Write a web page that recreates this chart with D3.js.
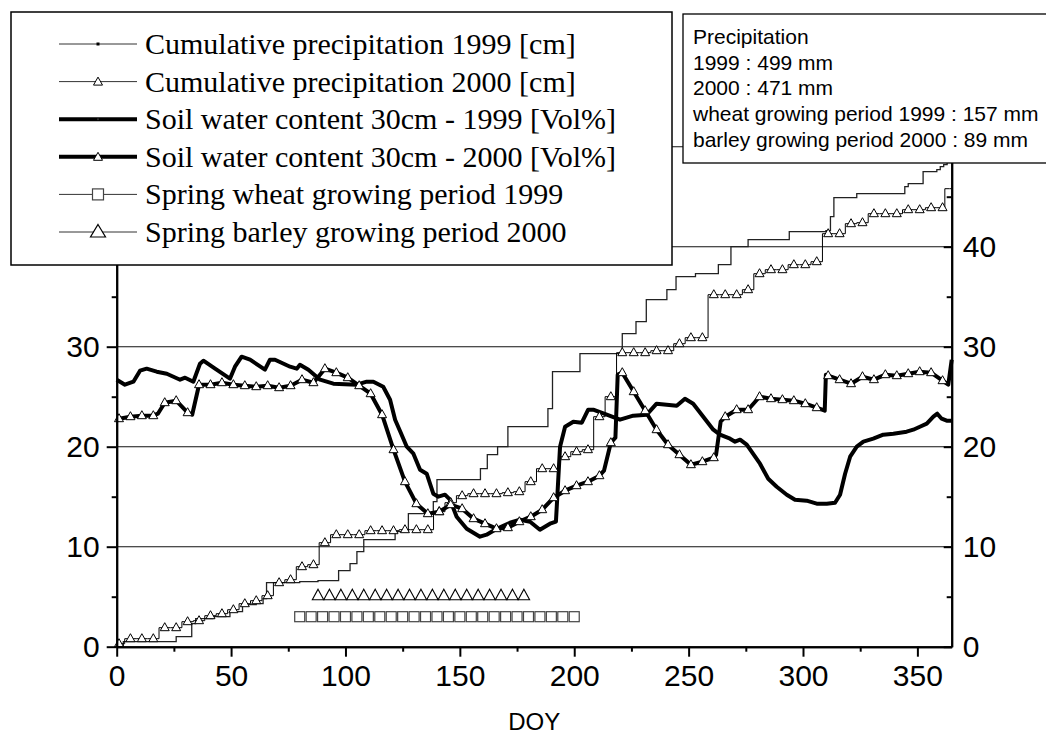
<!DOCTYPE html>
<html>
<head>
<meta charset="utf-8">
<script src="https://cdn.jsdelivr.net/npm/d3@7"></script>
<style>
body { margin: 0; background: #fff; }
</style>
</head>
<body>
<script>
// cumulative precipitation 1999 [cm] - step changes as [DOY, value]
var precip1999 = [[0,0],[2.9,0.5],[26,1.0],[32.8,2.3],[34.5,2.8],[42,3.0],[49.5,3.5],[55,4.2],[61,4.3],[64,4.8],[65.5,6.4],[80,6.5],[88,6.6],[97,7.6],[102,8.3],[105,9.5],[108,10.7],[121.7,11.5],[127.5,13.3],[138.4,14.5],[140,16.7],[159,17.8],[162,19.2],[166.5,20.0],[171,22.0],[188.5,23.8],[190.5,27.5],[202.5,29.3],[221,31.3],[227,32.5],[231.5,34.7],[240.5,35.7],[244.5,37.0],[253,37.3],[263,38.2],[268.5,40.0],[276,40.7],[294,41.5],[310,41.6],[312,43.0],[313.5,44.9],[323.5,45.3],[344.5,46.0],[346,46.3],[352.5,47.5],[358.5,47.7],[360,48.0],[361.5,48.2],[363,49.0],[364,49.9],[365,49.9]];

// cumulative precipitation 2000 [cm] - values at the marker days 1, 6, 11 ... 361
var precip2000Marks = [0.3,0.8,0.8,0.8,1.9,1.9,2.5,2.6,3.1,3.3,3.7,4.3,4.6,5.1,6.4,6.7,8.0,8.2,10.4,11.2,11.2,11.2,11.6,11.6,11.6,11.7,11.7,11.7,13.5,14.4,15.1,15.3,15.3,15.3,15.4,15.5,16.5,17.8,17.8,19.0,19.5,19.7,23.0,25.0,29.4,29.4,29.4,29.6,29.6,30.3,30.9,30.9,35.2,35.2,35.2,35.7,37.3,37.7,37.7,38.2,38.2,38.5,41.3,41.3,42.3,42.4,43.3,43.3,43.3,43.7,43.7,43.9,43.9];
var precip2000Extra = [[0,0.1],[363,45.8],[365,45.8]];

// soil water content 30cm 1999 [Vol%]
var soil1999 = [[0,26.7],[3.6,26.2],[7.3,26.5],[10.2,27.6],[13.1,27.8],[17.5,27.5],[21.9,27.3],[27.7,26.7],[29.9,26.9],[33.5,26.5],[36.4,28.3],[37.9,28.6],[43,27.8],[49.5,26.8],[51.7,28.0],[54.6,29.0],[58.3,28.7],[64.8,27.7],[67,28.7],[69.2,28.7],[75.8,28.0],[78.7,27.8],[80.1,28.2],[83.8,27.7],[88.9,26.7],[94.7,26.3],[104.9,26.2],[109.3,26.5],[112.2,26.5],[116.5,26.0],[119.5,24.7],[121.7,22.7],[123.8,21.6],[126.8,20.0],[129.7,19.3],[132.6,17.7],[135.5,17.3],[138.4,15.3],[140.6,15.0],[143.5,15.2],[145.7,14.7],[148.6,13.0],[153,11.8],[158.8,11.0],[161.7,11.2],[166.1,11.8],[171.9,12.4],[176.3,12.7],[180.7,12.5],[185,11.7],[189.4,12.3],[192,12.5],[193.8,20.0],[196,22.0],[199.6,22.5],[203.3,22.4],[206.1,23.7],[208.3,23.7],[214.2,23.2],[220,22.7],[225.8,23.1],[231.7,23.2],[236,24.3],[240.4,24.2],[244.8,24.1],[248.4,24.8],[252,24.3],[260.8,21.7],[263.7,21.2],[268.1,20.8],[270.3,20.5],[272.5,20.7],[275.4,20.2],[281.2,18.3],[284.8,16.8],[288.5,16.0],[292.9,15.2],[296.5,14.7],[301.6,14.6],[306,14.3],[310.4,14.3],[314,14.4],[316.2,15.2],[318.4,17.3],[320.6,19.0],[323.5,20.0],[326.4,20.5],[330.7,20.8],[335.1,21.2],[339.5,21.3],[345.3,21.5],[348.2,21.7],[351.1,22.0],[354.1,22.3],[357,23.0],[358.7,23.3],[360.6,22.8],[362.8,22.6],[365,22.6]];

// soil water content 30cm 2000 [Vol%] - values at the marker days 1, 6, 11 ... 361
var soil2000Marks = [22.8,23.0,23.1,23.1,24.4,24.6,23.4,26.2,26.2,26.4,26.2,26.1,26.0,26.1,25.9,26.1,26.7,26.4,27.8,27.4,26.9,26.1,25.3,23.2,19.7,16.5,14.3,13.3,13.5,14.2,13.8,12.8,12.3,11.8,11.9,12.5,13.0,13.7,14.9,15.6,16.1,16.5,17.1,20.4,27.4,25.5,23.6,21.7,20.2,19.2,18.2,18.5,18.9,23.0,23.7,23.7,25.0,24.8,24.7,24.6,24.3,23.9,27.1,26.7,26.3,27.0,26.7,27.2,27.1,27.3,27.5,27.4,26.6];
var soil2000Extra = [[0,22.6],[18,23.3],[33,23.2],[213,17.6],[218,20.9],[219,27.2],[262,19.2],[264,22.5],[309.5,23.6],[310,27.2],[363.5,26.2],[365,28.7]];

// growing periods
var wheatDays = d3.range(80, 201, 5), wheatLevel = 3;
var barleyDays = d3.range(88, 179, 5), barleyLevel = 5;

var xMajor = [0, 50, 100, 150, 200, 250, 300, 350];
var xMinor = [25, 75, 125, 175, 225, 275, 325];
var yMajor = [0, 10, 20, 30, 40, 50];
var yMinor = [5, 15, 25, 35, 45];
var yLabelled = [0, 10, 20, 30, 40];
var gridValues = [10, 20, 30, 40, 50];

var legendLabels = ["Cumulative precipitation 1999 [cm]", "Cumulative precipitation 2000 [cm]",
    "Soil water content 30cm - 1999 [Vol%]", "Soil water content 30cm - 2000 [Vol%]",
    "Spring wheat growing period 1999", "Spring barley growing period 2000"];
var noteLines = ["Precipitation", "1999 : 499 mm", "2000 : 471 mm",
    "wheat growing period 1999 : 157 mm", "barley growing period 2000 : 89 mm"];

var width = 1046, height = 734;
var sans = "'Liberation Sans', Arial, sans-serif";
var serif = "'Liberation Serif', 'Times New Roman', serif";

var svg = d3.select("body").append("svg")
    .attr("width", width)
    .attr("height", height);

var x = d3.scaleLinear().domain([0, 365]).range([116.7, 951.7]);
var y = d3.scaleLinear().domain([0, 55]).range([646.7, 96.7]);

// marker days for the 2000 series and the combined point lists
var markDays = d3.range(precip2000Marks.length).map(function (k) { return 1 + 5 * k; });
var precip2000 = markDays.map(function (d, k) { return [d, precip2000Marks[k]]; })
    .concat(precip2000Extra).sort(function (a, b) { return a[0] - b[0]; });
var soil2000 = markDays.map(function (d, k) { return [d, soil2000Marks[k]]; })
    .concat(soil2000Extra).sort(function (a, b) { return a[0] - b[0]; });
var isMark = function (d) { return (d[0] - 1) % 5 === 0; };

var triSmall = "M0,-5L4.5,3L-4.5,3Z";
var triBig = "M0,-7.5L5.7,3L-5.7,3Z";

//horizontal grid lines
svg.append("g").selectAll("line")
    .data(gridValues)
    .enter().append("line")
    .attr("x1", x(0)).attr("x2", x(365))
    .attr("y1", function (d) { return y(d); })
    .attr("y2", function (d) { return y(d); })
    .style("stroke", "#111")
    .style("stroke-width", 1.1);

var line = d3.line()
    .x(function (d) { return x(d[0]); })
    .y(function (d) { return y(d[1]); });

//cumulative precipitation lines
svg.append("path")
    .attr("d", line.curve(d3.curveStepAfter)(precip1999))
    .style("fill", "none")
    .style("stroke", "#222")
    .style("stroke-width", 1.3);

svg.append("path")
    .attr("d", line.curve(d3.curveStep)(precip2000))
    .style("fill", "none")
    .style("stroke", "#000")
    .style("stroke-width", 1);

//soil water content lines
svg.append("path")
    .attr("d", line.curve(d3.curveLinear)(soil1999))
    .style("fill", "none")
    .style("stroke", "#000")
    .style("stroke-width", 4)
    .style("stroke-linejoin", "round");

svg.append("path")
    .attr("d", line.curve(d3.curveLinear)(soil2000))
    .style("fill", "none")
    .style("stroke", "#000")
    .style("stroke-width", 4)
    .style("stroke-linejoin", "round");

//open triangles on the 2000 series
svg.append("g").selectAll("path")
    .data(precip2000.filter(isMark).concat(soil2000.filter(isMark)))
    .enter().append("path")
    .attr("d", triSmall)
    .attr("transform", function (d) { return "translate(" + x(d[0]) + "," + y(d[1]) + ")"; })
    .style("fill", "#fff")
    .style("stroke", "#000")
    .style("stroke-width", 1);

//growing period markers
svg.append("g").selectAll("rect")
    .data(wheatDays)
    .enter().append("rect")
    .attr("x", function (d) { return x(d) - 5; })
    .attr("y", y(wheatLevel) - 5)
    .attr("width", 10).attr("height", 10)
    .style("fill", "#fff")
    .style("stroke", "#444")
    .style("stroke-width", 1.2);

svg.append("g").selectAll("path")
    .data(barleyDays)
    .enter().append("path")
    .attr("d", triBig)
    .attr("transform", function (d) { return "translate(" + x(d) + "," + y(barleyLevel) + ")"; })
    .style("fill", "#fff")
    .style("stroke", "#000")
    .style("stroke-width", 1.1);

//axes
var styleAxis = function (g, fontSize) {
    g.select(".domain").style("stroke", "#000").style("stroke-width", 2);
    g.selectAll(".tick line").style("stroke", "#000").style("stroke-width", 2);
    g.selectAll("text")
        .style("font-family", sans)
        .style("font-size", fontSize + "px")
        .style("fill", "#000");
};
// only 0..40 carry a label, the 50 tick sits under the boxes
var yFormat = function (d) { return yLabelled.indexOf(d) >= 0 ? d : ""; };

svg.append("g")
    .attr("transform", "translate(0," + y(0) + ")")
    .call(d3.axisBottom(x).tickValues(xMajor).tickSize(10).tickSizeOuter(0).tickPadding(8).tickFormat(d3.format("d")))
    .call(styleAxis, 30);
svg.append("g")
    .attr("transform", "translate(0," + y(0) + ")")
    .call(d3.axisBottom(x).tickValues(xMinor).tickSize(5).tickSizeOuter(0).tickFormat(""))
    .call(styleAxis, 30);

svg.append("g")
    .attr("transform", "translate(" + x(0) + ",0)")
    .call(d3.axisLeft(y).tickValues(yMajor).tickSize(10).tickSizeOuter(0).tickPadding(7).tickFormat(yFormat))
    .call(styleAxis, 30);
svg.append("g")
    .attr("transform", "translate(" + x(0) + ",0)")
    .call(d3.axisLeft(y).tickValues(yMinor).tickSize(5).tickSizeOuter(0).tickFormat(""))
    .call(styleAxis, 30);

//right axis, ticks point inwards
svg.append("g")
    .attr("transform", "translate(" + x(365) + ",0)")
    .call(d3.axisRight(y).tickValues(yMajor).tickSize(-8).tickSizeOuter(0).tickPadding(11).tickFormat(yFormat))
    .call(styleAxis, 30);
svg.append("g")
    .attr("transform", "translate(" + x(365) + ",0)")
    .call(d3.axisRight(y).tickValues(yMinor).tickSize(-5).tickSizeOuter(0).tickFormat(""))
    .call(styleAxis, 30);

svg.append("text")
    .attr("x", (x(0) + x(365)) / 2)
    .attr("y", 730)
    .attr("text-anchor", "middle")
    .style("font-family", sans)
    .style("font-size", "24px")
    .text("DOY");

//legend box
var legend = svg.append("g");
legend.append("rect")
    .attr("x", 11).attr("y", 12)
    .attr("width", 661).attr("height", 253)
    .style("fill", "#fff")
    .style("stroke", "#000")
    .style("stroke-width", 1.5);

var rowY = function (i) { return 44 + 37.6 * i; };
var sampleWidths = [1, 1, 4, 4, 1, 1];

legendLabels.forEach(function (label, i) {
    var cy = rowY(i);
    legend.append("line")
        .attr("x1", 59).attr("x2", 137)
        .attr("y1", cy).attr("y2", cy)
        .style("stroke", sampleWidths[i] > 1 ? "#000" : "#333")
        .style("stroke-width", sampleWidths[i]);
    if (i === 0) {
        legend.append("rect").attr("x", 96.5).attr("y", cy - 1.5).attr("width", 3).attr("height", 3).style("fill", "#000");
    } else if (i === 2) {
        legend.append("circle").attr("cx", 98).attr("cy", cy).attr("r", 1).style("fill", "#333");
    } else if (i === 1 || i === 3) {
        legend.append("path").attr("d", triSmall)
            .attr("transform", "translate(98," + (cy + 0.5) + ")")
            .style("fill", "#fff").style("stroke", "#000").style("stroke-width", 1);
    } else if (i === 4) {
        legend.append("rect").attr("x", 92.5).attr("y", cy - 5.5).attr("width", 11).attr("height", 11)
            .style("fill", "#fff").style("stroke", "#444").style("stroke-width", 1.2);
    } else {
        legend.append("path").attr("d", "M0,-8.5L7.5,4L-7.5,4Z")
            .attr("transform", "translate(98," + (cy + 1) + ")")
            .style("fill", "#fff").style("stroke", "#000").style("stroke-width", 1.2);
    }
    legend.append("text")
        .attr("x", 145)
        .attr("y", cy + 10)
        .style("font-family", serif)
        .style("font-size", "30px")
        .text(label);
});

//precipitation note box
var note = svg.append("g");
note.append("rect")
    .attr("x", 683).attr("y", 14)
    .attr("width", 380).attr("height", 149)
    .style("fill", "#fff")
    .style("stroke", "#000")
    .style("stroke-width", 1.3);

note.selectAll("text")
    .data(noteLines)
    .enter().append("text")
    .attr("x", 693)
    .attr("y", function (d, i) { return 44 + 25.7 * i; })
    .style("font-family", sans)
    .style("font-size", "21px")
    .text(function (d) { return d; });
</script>
</body>
</html>
